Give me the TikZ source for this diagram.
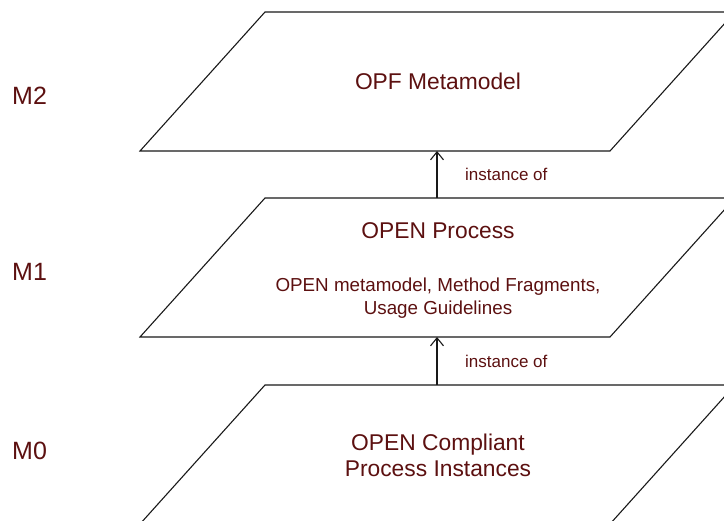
\documentclass[tikz,border=0pt]{standalone}
\usepackage{fontspec}
\setmainfont{Liberation Sans}
\usetikzlibrary{arrows.meta}
\definecolor{labelred}{RGB}{92,16,16}
\tikzset{
	plane/.style={draw=black!90, line width=1.1pt, line join=miter},
	instarrow/.style={draw=black!90, line width=1.1pt, -{Straight Barb[length=8pt,width=13pt,line width=1.1pt]}},
	bigtext/.style={text=labelred, inner sep=0pt, font=\fontsize{22.8}{26}\selectfont, align=center},
	midtext/.style={text=labelred, inner sep=0pt, font=\fontsize{18.8}{23}\selectfont, align=center},
	smalltext/.style={text=labelred, inner sep=0pt, font=\fontsize{17}{20}\selectfont},
	leveltext/.style={text=labelred, inner sep=0pt, font=\fontsize{25}{28}\selectfont}
}
\begin{document}
\begin{tikzpicture}[x=1pt, y=-1pt]
	\useasboundingbox (0,0) rectangle (724,521);
	\clip (0,0) rectangle (724,521);
	% Planes:
	\draw[plane] (265,12) -- (735,12) -- (610,151) -- (140,151) -- cycle;
	\draw[plane] (265,198) -- (735,198) -- (610,337) -- (140,337) -- cycle;
	\draw[plane] (265,385) -- (735,385) -- (610,524) -- (140,524) -- cycle;
	% Arrow ends:
	\coordinate (m2bot) at (437,151);
	\coordinate (m1top) at (437,198);
	\coordinate (m1bot) at (437,337);
	\coordinate (m0top) at (437,385);
	\draw[instarrow] (m1top) -- (m2bot);
	\draw[instarrow] (m0top) -- (m1bot);
	% Texts:
	\node[bigtext, anchor=base] (opf) at (438,90) {OPF Metamodel};
	\node[bigtext, anchor=base] (open) at (438,239) {OPEN Process};
	\node[midtext] (fragments) at (438,298) {OPEN metamodel, Method Fragments,\\Usage Guidelines};
	\node[bigtext] (compliant) at (438,455) {OPEN Compliant\\Process Instances};
	\node[smalltext, anchor=base west] (inst1) at (465,181) {instance of};
	\node[smalltext, anchor=base west] (inst2) at (465,368) {instance of};
	\node[leveltext, anchor=base west] (m2) at (12,105) {M2};
	\node[leveltext, anchor=base west] (m1) at (12,281) {M1};
	\node[leveltext, anchor=base west] (m0) at (12,460) {M0};
\end{tikzpicture}
\end{document}
